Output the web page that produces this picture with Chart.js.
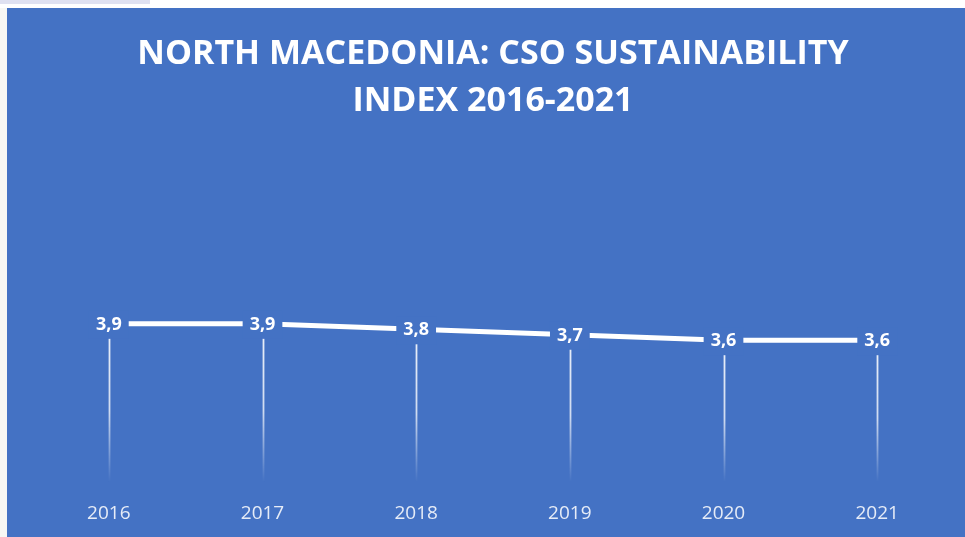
<!DOCTYPE html>
<html>
<head>
<meta charset="utf-8">
<script src="https://cdn.jsdelivr.net/npm/chart.js@4.4.1/dist/chart.umd.min.js"></script>
<style>
  html, body { margin: 0; padding: 0; background: #f7f7f4; width: 965px; height: 537px; overflow: hidden; }
  #topbar { position: absolute; left: 0; top: 0; width: 965px; height: 8px; background: #ffffff; }
  #tab { position: absolute; left: 0; top: 0; width: 150px; height: 4px; background: #dfe1f1; }
  #wrap { position: absolute; left: 7px; top: 8px; width: 958px; height: 529px; background: #4472C4; }
  canvas { display: block; }
</style>
</head>
<body>
<div id="topbar"></div>
<div id="tab"></div>
<div id="wrap"><canvas id="c" width="958" height="529"></canvas></div>
<script>
const categories = ["2016", "2017", "2018", "2019", "2020", "2021"];
const indexValues = [3.9, 3.9, 3.8, 3.7, 3.6, 3.6];
const titleLines = ["NORTH MACEDONIA: CSO SUSTAINABILITY", "INDEX 2016-2021"];

const BG = "#4472C4";

const dropLinesAndLabels = {
  id: "dropLinesAndLabels",
  beforeDatasetsDraw(chart) {
    const ctx = chart.ctx;
    const meta = chart.getDatasetMeta(0);
    const bottom = chart.chartArea.bottom;
    ctx.save();
    meta.data.forEach((pt) => {
      const g = ctx.createLinearGradient(0, pt.y, 0, bottom);
      g.addColorStop(0, "rgba(255,255,255,0.9)");
      g.addColorStop(0.55, "rgba(255,255,255,0.75)");
      g.addColorStop(1, "rgba(255,255,255,0)");
      ctx.strokeStyle = g;
      ctx.lineWidth = 1.8;
      ctx.beginPath();
      ctx.moveTo(Math.round(pt.x) + 0.5, pt.y);
      ctx.lineTo(Math.round(pt.x) + 0.5, bottom);
      ctx.stroke();
    });
    ctx.restore();
  },
  afterDatasetsDraw(chart) {
    const ctx = chart.ctx;
    const meta = chart.getDatasetMeta(0);
    const ds = chart.data.datasets[0].data;
    ctx.save();
    ctx.font = "bold 18px 'Open Sans', sans-serif";
    ctx.textAlign = "center";
    ctx.textBaseline = "middle";
    meta.data.forEach((pt, i) => {
      const txt = ds[i].toFixed(1).replace(".", ",");
      const w = ctx.measureText(txt).width;
      ctx.fillStyle = BG;
      ctx.fillRect(pt.x - w / 2 - 7, pt.y - 13, w + 14, 28);
      ctx.fillStyle = "#ffffff";
      ctx.fillText(txt, pt.x, pt.y + 1);
    });
    ctx.restore();
  }
};

new Chart(document.getElementById("c"), {
  type: "line",
  data: {
    labels: categories,
    datasets: [{
      data: indexValues,
      borderColor: "#ffffff",
      borderWidth: 5,
      pointRadius: 0,
      tension: 0,
      fill: false
    }]
  },
  options: {
    responsive: false,
    animation: false,
    layout: { padding: { left: 25, right: 11, top: 0, bottom: 13 } },
    plugins: {
      legend: { display: false },
      tooltip: { enabled: false },
      title: {
        display: true,
        text: titleLines,
        color: "#ffffff",
        font: { family: "'Open Sans', sans-serif", size: 34, weight: "bold", lineHeight: 1.38 },
        padding: { top: 23, bottom: 139 }
      }
    },
    scales: {
      x: {
        offset: true,
        grid: { display: false, drawTicks: false, tickLength: 0 },
        border: { display: false },
        ticks: {
          color: "#e6ecf7",
          padding: 20,
          font: { family: "'Open Sans', sans-serif", size: 19 }
        },
        afterFit(scale) { scale.height = 42; }
      },
      y: {
        display: false,
        min: 1,
        max: 5
      }
    }
  },
  plugins: [dropLinesAndLabels]
});
</script>
</body>
</html>
